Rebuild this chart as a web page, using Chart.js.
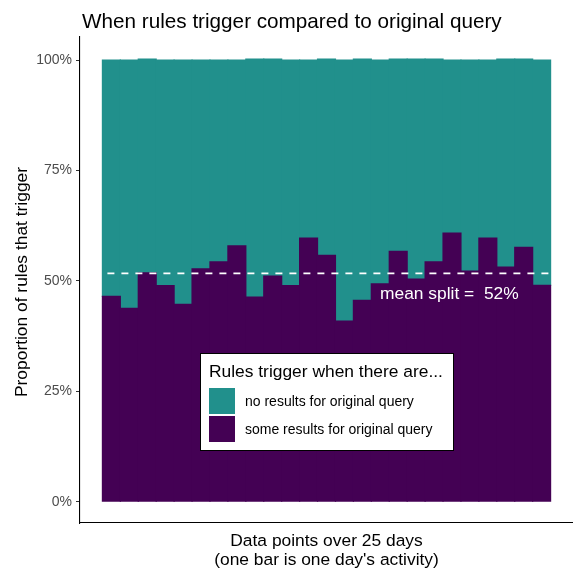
<!DOCTYPE html>
<html>
<head>
<meta charset="utf-8">
<script src="https://cdn.jsdelivr.net/npm/chart.js@4"></script>
<style>
  html, body { margin: 0; padding: 0; background: #ffffff; }
  #c { display: block; }
</style>
</head>
<body>
<canvas id="c" width="573" height="569" style="width:573px;height:569px"></canvas>
<script>
const days = [1,2,3,4,5,6,7,8,9,10,11,12,13,14,15,16,17,18,19,20,21,22,23,24,25];
const someResults = [46.5,43.8,51.8,48.9,44.7,52.7,54.3,57.9,46.3,51.1,48.9,59.7,55.8,40.9,45.6,49.3,56.7,50.4,54.3,60.8,52.2,59.7,53.1,57.6,49.0];
const noResults = [53.5,56.2,48.4,51.1,55.3,47.3,45.7,42.1,53.9,49.1,51.1,40.3,44.4,59.1,54.6,50.7,43.5,49.8,45.9,39.2,47.8,40.3,47.1,42.6,51.0];
const yTickValues = [0,25,50,75,100];
const yTickLabels = ['0%','25%','50%','75%','100%'];
const seriesNames = ['no results for original query','some results for original query'];
const TEAL = '#21908C', PURPLE = '#440154';

const meanSplit = someResults.reduce((a,b)=>a+b,0) / someResults.length;
const FONT = '"Liberation Sans", Arial, Helvetica, sans-serif';

const textPlugin = {
  id: 'texts',
  afterDraw(chart) {
    const ctx = chart.ctx;
    const ys = chart.scales.y;
    ctx.save();
    // title
    ctx.fillStyle = '#000';
    ctx.font = '20.7px ' + FONT;
    ctx.textAlign = 'left';
    ctx.textBaseline = 'alphabetic';
    ctx.fillText('When rules trigger compared to original query', 82, 28);
    // x title
    ctx.font = '17.4px ' + FONT;
    ctx.textAlign = 'center';
    const cx = (chart.chartArea.left + chart.chartArea.right) / 2;
    ctx.fillText('Data points over 25 days', cx, 546);
    ctx.fillText("(one bar is one day's activity)", cx, 565);
    // y title
    ctx.save();
    ctx.translate(27, (chart.chartArea.top + chart.chartArea.bottom) / 2 + 2);
    ctx.rotate(-Math.PI / 2);
    ctx.fillText('Proportion of rules that trigger', 0, 0);
    ctx.restore();
    // mean label
    ctx.fillStyle = '#ffffff';
    ctx.textAlign = 'left';
    ctx.font = '17.4px ' + FONT;
    ctx.fillText('mean split =  ' + Math.round(meanSplit) + '%', 380, ys.getPixelForValue(meanSplit) + 26);
    // legend
    ctx.fillStyle = '#ffffff';
    ctx.fillRect(200, 353, 254, 98);
    ctx.strokeStyle = '#000';
    ctx.lineWidth = 1;
    ctx.strokeRect(200.5, 353.5, 253, 97);
    ctx.fillStyle = '#000';
    ctx.font = '17.4px ' + FONT;
    ctx.fillText('Rules trigger when there are...', 209, 377);
    const keys = [TEAL, PURPLE];
    ctx.font = '14px ' + FONT;
    for (let i = 0; i < 2; i++) {
      ctx.fillStyle = keys[i];
      ctx.fillRect(209, 388 + i * 28, 26, 26);
      ctx.fillStyle = '#000';
      ctx.fillText(seriesNames[i], 245, 406 + i * 28);
    }
    ctx.restore();
  }
};

new Chart(document.getElementById('c'), {
  type: 'bar',
  data: {
    labels: days,
    datasets: [
      {
        type: 'line',
        label: 'mean',
        data: [{x: 0.5, y: meanSplit}, {x: 25.5, y: meanSplit}],
        borderColor: '#ffffff',
        borderWidth: 1.8,
        borderDash: [7, 7],
        borderDashOffset: 9,
        pointRadius: 0,
        fill: false,
        order: -1
      },
      {
        label: seriesNames[1],
        data: someResults,
        backgroundColor: PURPLE,
        borderWidth: 0,
        inflateAmount: 0.6,
        barPercentage: 1,
        categoryPercentage: 1
      },
      {
        label: seriesNames[0],
        data: noResults,
        backgroundColor: TEAL,
        borderWidth: 0,
        inflateAmount: 0.6,
        barPercentage: 1,
        categoryPercentage: 1
      }
    ]
  },
  options: {
    responsive: false,
    animation: false,
    devicePixelRatio: 1,
    layout: { padding: { top: 37, right: 0, left: 0, bottom: 0 } },
    plugins: {
      legend: { display: false },
      title: { display: false },
      tooltip: { enabled: false }
    },
    scales: {
      x: {
        type: 'linear',
        stacked: true,
        offset: false,
        min: -0.75,
        max: 26.75,
        grid: { display: false, offset: false },
        ticks: { display: false },
        border: { display: true, color: '#000', width: 1.1 },
        afterFit(scale) { scale.height = 46; }
      },
      y: {
        stacked: true,
        min: -4.82,
        max: 105.21,
        afterBuildTicks(scale) { scale.ticks = yTickValues.map(v => ({ value: v })); },
        ticks: {
          color: '#4D4D4D',
          font: { family: FONT, size: 14 },
          padding: 4,
          callback(value) { const i = yTickValues.indexOf(value); return i >= 0 ? yTickLabels[i] : ''; }
        },
        grid: { display: true, drawOnChartArea: false, drawTicks: true, tickLength: 4, color: '#333333', lineWidth: 1 },
        border: { display: true, color: '#000', width: 1.1 },
        afterFit(scale) { scale.width = 80; }
      }
    }
  },
  plugins: [textPlugin]
});
</script>
</body>
</html>
